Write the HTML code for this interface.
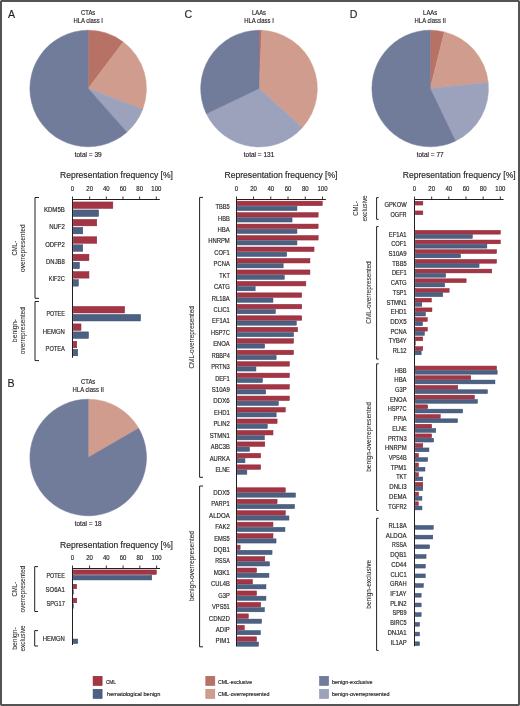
<!DOCTYPE html>
<html><head><meta charset="utf-8"><style>
html,body{margin:0;padding:0;background:#fff;}
body{width:520px;height:706px;overflow:hidden;position:relative;}
.frame{position:absolute;left:0;top:0;width:520px;height:706px;box-sizing:border-box;border:2px solid #545454;}
svg{position:absolute;left:0;top:0;will-change:transform;}
svg text{font-family:"Liberation Sans", sans-serif;fill:#231f20;stroke:#231f20;stroke-width:0.16px;}
</style></head><body>
<svg width="520" height="706" viewBox="0 0 520 706">
<text transform="translate(7.9,17.9) scale(0.9,1)" font-size="11.8" text-anchor="start" >A</text>
<text transform="translate(7.4,387.0) scale(0.9,1)" font-size="11.8" text-anchor="start" >B</text>
<text transform="translate(184.6,18.1) scale(0.9,1)" font-size="11.8" text-anchor="start" >C</text>
<text transform="translate(349.8,18.0) scale(0.9,1)" font-size="11.8" text-anchor="start" >D</text>
<text x="88.2" y="14.6" font-size="6.50" text-anchor="middle" textLength="14.18" lengthAdjust="spacingAndGlyphs">CTAs</text>
<text x="88.2" y="23.1" font-size="6.50" text-anchor="middle" textLength="29.63" lengthAdjust="spacingAndGlyphs">HLA class I</text>
<text x="88.2" y="383.6" font-size="6.50" text-anchor="middle" textLength="14.18" lengthAdjust="spacingAndGlyphs">CTAs</text>
<text x="88.2" y="392.1" font-size="6.50" text-anchor="middle" textLength="31.25" lengthAdjust="spacingAndGlyphs">HLA class II</text>
<text x="259" y="14.8" font-size="6.50" text-anchor="middle" textLength="14.23" lengthAdjust="spacingAndGlyphs">LAAs</text>
<text x="259" y="23.3" font-size="6.50" text-anchor="middle" textLength="29.63" lengthAdjust="spacingAndGlyphs">HLA class I</text>
<text x="430.2" y="14.8" font-size="6.50" text-anchor="middle" textLength="14.23" lengthAdjust="spacingAndGlyphs">LAAs</text>
<text x="430.2" y="23.3" font-size="6.50" text-anchor="middle" textLength="31.25" lengthAdjust="spacingAndGlyphs">HLA class II</text>
<path d="M88.20,88.50 L88.20,30.20 A58.3,58.3 0 0 1 123.22,41.89 Z" fill="#b87265" stroke="#b87265" stroke-width="0.5" stroke-linejoin="round"/>
<path d="M88.20,88.50 L123.22,41.89 A58.3,58.3 0 0 1 142.71,109.17 Z" fill="#d09c8d" stroke="#d09c8d" stroke-width="0.5" stroke-linejoin="round"/>
<path d="M88.20,88.50 L142.71,109.17 A58.3,58.3 0 0 1 126.86,132.14 Z" fill="#9ca1bc" stroke="#9ca1bc" stroke-width="0.5" stroke-linejoin="round"/>
<path d="M88.20,88.50 L126.86,132.14 A58.3,58.3 0 1 1 88.20,30.20 Z" fill="#717b9a" stroke="#717b9a" stroke-width="0.5" stroke-linejoin="round"/>
<path d="M88.20,457.50 L88.20,399.20 A58.3,58.3 0 0 1 138.69,428.35 Z" fill="#d09c8d" stroke="#d09c8d" stroke-width="0.5" stroke-linejoin="round"/>
<path d="M88.20,457.50 L138.69,428.35 A58.3,58.3 0 1 1 88.20,399.20 Z" fill="#717b9a" stroke="#717b9a" stroke-width="0.5" stroke-linejoin="round"/>
<path d="M259.00,88.60 L259.00,30.30 A58.3,58.3 0 0 1 261.80,30.37 Z" fill="#b87265" stroke="#b87265" stroke-width="0.5" stroke-linejoin="round"/>
<path d="M259.00,88.60 L261.80,30.37 A58.3,58.3 0 0 1 302.39,127.54 Z" fill="#d09c8d" stroke="#d09c8d" stroke-width="0.5" stroke-linejoin="round"/>
<path d="M259.00,88.60 L302.39,127.54 A58.3,58.3 0 0 1 206.34,113.63 Z" fill="#9ca1bc" stroke="#9ca1bc" stroke-width="0.5" stroke-linejoin="round"/>
<path d="M259.00,88.60 L206.34,113.63 A58.3,58.3 0 0 1 259.00,30.30 Z" fill="#717b9a" stroke="#717b9a" stroke-width="0.5" stroke-linejoin="round"/>
<path d="M430.20,88.50 L430.20,30.20 A58.3,58.3 0 0 1 444.33,31.94 Z" fill="#b87265" stroke="#b87265" stroke-width="0.5" stroke-linejoin="round"/>
<path d="M430.20,88.50 L444.33,31.94 A58.3,58.3 0 0 1 488.20,82.56 Z" fill="#d09c8d" stroke="#d09c8d" stroke-width="0.5" stroke-linejoin="round"/>
<path d="M430.20,88.50 L488.20,82.56 A58.3,58.3 0 0 1 455.50,141.03 Z" fill="#9ca1bc" stroke="#9ca1bc" stroke-width="0.5" stroke-linejoin="round"/>
<path d="M430.20,88.50 L455.50,141.03 A58.3,58.3 0 1 1 430.20,30.20 Z" fill="#717b9a" stroke="#717b9a" stroke-width="0.5" stroke-linejoin="round"/>
<text x="88.2" y="157.2" font-size="6.60" text-anchor="middle" textLength="27.03" lengthAdjust="spacingAndGlyphs">total = 39</text>
<text x="88.2" y="526.4" font-size="6.60" text-anchor="middle" textLength="27.03" lengthAdjust="spacingAndGlyphs">total = 18</text>
<text x="259" y="157.2" font-size="6.60" text-anchor="middle" textLength="30.52" lengthAdjust="spacingAndGlyphs">total = 131</text>
<text x="430.2" y="157.2" font-size="6.60" text-anchor="middle" textLength="27.03" lengthAdjust="spacingAndGlyphs">total = 77</text>
<text x="116.5" y="178" font-size="9.20" text-anchor="middle" textLength="113.00" lengthAdjust="spacingAndGlyphs">Representation frequency [%]</text>
<text x="116.5" y="547.5" font-size="9.20" text-anchor="middle" textLength="113.00" lengthAdjust="spacingAndGlyphs">Representation frequency [%]</text>
<text x="281" y="178" font-size="9.20" text-anchor="middle" textLength="113.00" lengthAdjust="spacingAndGlyphs">Representation frequency [%]</text>
<text x="459.2" y="178.3" font-size="9.20" text-anchor="middle" textLength="113.00" lengthAdjust="spacingAndGlyphs">Representation frequency [%]</text>
<line x1="72.0" y1="199.5" x2="159.8" y2="199.5" stroke="#231f20" stroke-width="1"/>
<line x1="72.5" y1="199.0" x2="72.5" y2="357.8" stroke="#231f20" stroke-width="1"/>
<line x1="72.50" y1="196.5" x2="72.50" y2="199.5" stroke="#231f20" stroke-width="0.9"/>
<text x="72.50" y="190.8" font-size="6.40" text-anchor="middle" textLength="3.33" lengthAdjust="spacingAndGlyphs">0</text>
<line x1="89.66" y1="196.5" x2="89.66" y2="199.5" stroke="#231f20" stroke-width="0.9"/>
<text x="89.66" y="190.8" font-size="6.40" text-anchor="middle" textLength="6.67" lengthAdjust="spacingAndGlyphs">20</text>
<line x1="106.32" y1="196.5" x2="106.32" y2="199.5" stroke="#231f20" stroke-width="0.9"/>
<text x="106.32" y="190.8" font-size="6.40" text-anchor="middle" textLength="6.67" lengthAdjust="spacingAndGlyphs">40</text>
<line x1="122.98" y1="196.5" x2="122.98" y2="199.5" stroke="#231f20" stroke-width="0.9"/>
<text x="122.98" y="190.8" font-size="6.40" text-anchor="middle" textLength="6.67" lengthAdjust="spacingAndGlyphs">60</text>
<line x1="139.64" y1="196.5" x2="139.64" y2="199.5" stroke="#231f20" stroke-width="0.9"/>
<text x="139.64" y="190.8" font-size="6.40" text-anchor="middle" textLength="6.67" lengthAdjust="spacingAndGlyphs">80</text>
<line x1="156.30" y1="196.5" x2="156.30" y2="199.5" stroke="#231f20" stroke-width="0.9"/>
<text x="156.30" y="190.8" font-size="6.40" text-anchor="middle" textLength="10.00" lengthAdjust="spacingAndGlyphs">100</text>
<rect x="73.25" y="201.95" width="39.60" height="6.5" fill="#a23645" stroke="#8f2536" stroke-width="0.5"/>
<rect x="73.25" y="209.95" width="25.40" height="6.5" fill="#4c6082" stroke="#384a6e" stroke-width="0.5"/>
<text x="64.8" y="211.80" font-size="6.40" text-anchor="end" textLength="20.86" lengthAdjust="spacingAndGlyphs">KDM5B</text>
<rect x="73.25" y="219.37" width="23.50" height="6.5" fill="#a23645" stroke="#8f2536" stroke-width="0.5"/>
<rect x="73.25" y="227.37" width="9.50" height="6.5" fill="#4c6082" stroke="#384a6e" stroke-width="0.5"/>
<text x="64.8" y="229.22" font-size="6.40" text-anchor="end" textLength="15.67" lengthAdjust="spacingAndGlyphs">NUF2</text>
<rect x="73.25" y="236.79" width="23.50" height="6.5" fill="#a23645" stroke="#8f2536" stroke-width="0.5"/>
<rect x="73.25" y="244.79" width="9.50" height="6.5" fill="#4c6082" stroke="#384a6e" stroke-width="0.5"/>
<text x="64.8" y="246.64" font-size="6.40" text-anchor="end" textLength="19.63" lengthAdjust="spacingAndGlyphs">ODFP2</text>
<rect x="73.25" y="254.21" width="15.70" height="6.5" fill="#a23645" stroke="#8f2536" stroke-width="0.5"/>
<rect x="73.25" y="262.21" width="6.20" height="6.5" fill="#4c6082" stroke="#384a6e" stroke-width="0.5"/>
<text x="64.8" y="264.06" font-size="6.40" text-anchor="end" textLength="18.69" lengthAdjust="spacingAndGlyphs">DNJB8</text>
<rect x="73.25" y="271.63" width="15.70" height="6.5" fill="#a23645" stroke="#8f2536" stroke-width="0.5"/>
<rect x="73.25" y="279.63" width="5.10" height="6.5" fill="#4c6082" stroke="#384a6e" stroke-width="0.5"/>
<text x="64.8" y="281.48" font-size="6.40" text-anchor="end" textLength="16.05" lengthAdjust="spacingAndGlyphs">KIF2C</text>
<rect x="73.25" y="306.47" width="51.40" height="6.5" fill="#a23645" stroke="#8f2536" stroke-width="0.5"/>
<rect x="73.25" y="314.47" width="67.30" height="6.5" fill="#4c6082" stroke="#384a6e" stroke-width="0.5"/>
<text x="64.8" y="316.32" font-size="6.40" text-anchor="end" textLength="18.37" lengthAdjust="spacingAndGlyphs">POTEE</text>
<rect x="73.25" y="323.89" width="7.75" height="6.5" fill="#a23645" stroke="#8f2536" stroke-width="0.5"/>
<rect x="73.25" y="331.89" width="15.25" height="6.5" fill="#4c6082" stroke="#384a6e" stroke-width="0.5"/>
<text x="64.8" y="333.74" font-size="6.40" text-anchor="end" textLength="22.11" lengthAdjust="spacingAndGlyphs">HEMGN</text>
<rect x="73.25" y="341.31" width="3.50" height="6.5" fill="#a23645" stroke="#8f2536" stroke-width="0.5"/>
<rect x="73.25" y="349.31" width="4.50" height="6.5" fill="#4c6082" stroke="#384a6e" stroke-width="0.5"/>
<text x="64.8" y="351.16" font-size="6.40" text-anchor="end" textLength="19.19" lengthAdjust="spacingAndGlyphs">POTEA</text>
<path d="M39.0,197.5 H35.0 V298.3 H39.0" fill="none" stroke="#231f20" stroke-width="1"/>
<path d="M39.0,301.5 H35.0 V360.6 H39.0" fill="none" stroke="#231f20" stroke-width="1"/>
<text transform="translate(16.50,248.2) rotate(-90)" x="0" y="0" font-size="6.6" text-anchor="middle" style="stroke-width:0.05px" textLength="14.8" lengthAdjust="spacingAndGlyphs">CML-</text>
<text transform="translate(25.40,248.2) rotate(-90)" x="0" y="0" font-size="6.6" text-anchor="middle" style="stroke-width:0.05px" textLength="47.6" lengthAdjust="spacingAndGlyphs">overrepresented</text>
<text transform="translate(16.50,330.7) rotate(-90)" x="0" y="0" font-size="6.6" text-anchor="middle" style="stroke-width:0.05px" textLength="23" lengthAdjust="spacingAndGlyphs">benign-</text>
<text transform="translate(25.40,330.7) rotate(-90)" x="0" y="0" font-size="6.6" text-anchor="middle" style="stroke-width:0.05px" textLength="46.9" lengthAdjust="spacingAndGlyphs">overrepresented</text>
<line x1="72.0" y1="568.5" x2="160" y2="568.5" stroke="#231f20" stroke-width="1"/>
<line x1="72.5" y1="568.0" x2="72.5" y2="645" stroke="#231f20" stroke-width="1"/>
<line x1="72.50" y1="565.5" x2="72.50" y2="568.5" stroke="#231f20" stroke-width="0.9"/>
<text x="72.50" y="559.8" font-size="6.40" text-anchor="middle" textLength="3.33" lengthAdjust="spacingAndGlyphs">0</text>
<line x1="89.56" y1="565.5" x2="89.56" y2="568.5" stroke="#231f20" stroke-width="0.9"/>
<text x="89.56" y="559.8" font-size="6.40" text-anchor="middle" textLength="6.67" lengthAdjust="spacingAndGlyphs">20</text>
<line x1="106.32" y1="565.5" x2="106.32" y2="568.5" stroke="#231f20" stroke-width="0.9"/>
<text x="106.32" y="559.8" font-size="6.40" text-anchor="middle" textLength="6.67" lengthAdjust="spacingAndGlyphs">40</text>
<line x1="123.08" y1="565.5" x2="123.08" y2="568.5" stroke="#231f20" stroke-width="0.9"/>
<text x="123.08" y="559.8" font-size="6.40" text-anchor="middle" textLength="6.67" lengthAdjust="spacingAndGlyphs">60</text>
<line x1="139.84" y1="565.5" x2="139.84" y2="568.5" stroke="#231f20" stroke-width="0.9"/>
<text x="139.84" y="559.8" font-size="6.40" text-anchor="middle" textLength="6.67" lengthAdjust="spacingAndGlyphs">80</text>
<line x1="156.60" y1="565.5" x2="156.60" y2="568.5" stroke="#231f20" stroke-width="0.9"/>
<text x="156.60" y="559.8" font-size="6.40" text-anchor="middle" textLength="10.00" lengthAdjust="spacingAndGlyphs">100</text>
<rect x="73.25" y="569.95" width="83.10" height="4.5" fill="#a23645" stroke="#8f2536" stroke-width="0.5"/>
<rect x="73.25" y="575.45" width="78.50" height="4.5" fill="#4c6082" stroke="#384a6e" stroke-width="0.5"/>
<text x="64.8" y="577.55" font-size="6.40" text-anchor="end" textLength="18.37" lengthAdjust="spacingAndGlyphs">POTEE</text>
<rect x="73.25" y="584.25" width="3.40" height="4.5" fill="#a23645" stroke="#8f2536" stroke-width="0.5"/>
<rect x="73.25" y="589.75" width="0.40" height="4.5" fill="#4c6082" stroke="#384a6e" stroke-width="0.5"/>
<text x="64.8" y="591.85" font-size="6.40" text-anchor="end" textLength="19.18" lengthAdjust="spacingAndGlyphs">SO6A1</text>
<rect x="73.25" y="598.25" width="3.50" height="4.5" fill="#a23645" stroke="#8f2536" stroke-width="0.5"/>
<rect x="73.25" y="603.75" width="0.40" height="4.5" fill="#4c6082" stroke="#384a6e" stroke-width="0.5"/>
<text x="64.8" y="605.85" font-size="6.40" text-anchor="end" textLength="18.34" lengthAdjust="spacingAndGlyphs">SPG17</text>
<rect x="73.25" y="639.05" width="4.50" height="4.5" fill="#4c6082" stroke="#384a6e" stroke-width="0.5"/>
<text x="64.8" y="641.15" font-size="6.40" text-anchor="end" textLength="22.11" lengthAdjust="spacingAndGlyphs">HEMGN</text>
<path d="M38.0,566.6 H34.7 V611.5 H38.0" fill="none" stroke="#231f20" stroke-width="1"/>
<path d="M38.0,630.6 H34.7 V646 H38.0" fill="none" stroke="#231f20" stroke-width="1"/>
<text transform="translate(16.50,589.2) rotate(-90)" x="0" y="0" font-size="6.6" text-anchor="middle" style="stroke-width:0.05px" textLength="14.8" lengthAdjust="spacingAndGlyphs">CML-</text>
<text transform="translate(25.40,589.2) rotate(-90)" x="0" y="0" font-size="6.6" text-anchor="middle" style="stroke-width:0.05px" textLength="46.7" lengthAdjust="spacingAndGlyphs">overrepresented</text>
<text transform="translate(16.50,638.4) rotate(-90)" x="0" y="0" font-size="6.6" text-anchor="middle" style="stroke-width:0.05px" textLength="22.5" lengthAdjust="spacingAndGlyphs">benign-</text>
<text transform="translate(25.40,638.4) rotate(-90)" x="0" y="0" font-size="6.6" text-anchor="middle" style="stroke-width:0.05px" textLength="26.1" lengthAdjust="spacingAndGlyphs">exclusive</text>
<line x1="236.0" y1="199.5" x2="325.8" y2="199.5" stroke="#231f20" stroke-width="1"/>
<line x1="236.5" y1="199.0" x2="236.5" y2="646.5" stroke="#231f20" stroke-width="1"/>
<line x1="236.50" y1="196.5" x2="236.50" y2="199.5" stroke="#231f20" stroke-width="0.9"/>
<text x="236.50" y="190.8" font-size="6.40" text-anchor="middle" textLength="3.33" lengthAdjust="spacingAndGlyphs">0</text>
<line x1="253.54" y1="196.5" x2="253.54" y2="199.5" stroke="#231f20" stroke-width="0.9"/>
<text x="253.54" y="190.8" font-size="6.40" text-anchor="middle" textLength="6.67" lengthAdjust="spacingAndGlyphs">20</text>
<line x1="270.78" y1="196.5" x2="270.78" y2="199.5" stroke="#231f20" stroke-width="0.9"/>
<text x="270.78" y="190.8" font-size="6.40" text-anchor="middle" textLength="6.67" lengthAdjust="spacingAndGlyphs">40</text>
<line x1="288.02" y1="196.5" x2="288.02" y2="199.5" stroke="#231f20" stroke-width="0.9"/>
<text x="288.02" y="190.8" font-size="6.40" text-anchor="middle" textLength="6.67" lengthAdjust="spacingAndGlyphs">60</text>
<line x1="305.26" y1="196.5" x2="305.26" y2="199.5" stroke="#231f20" stroke-width="0.9"/>
<text x="305.26" y="190.8" font-size="6.40" text-anchor="middle" textLength="6.67" lengthAdjust="spacingAndGlyphs">80</text>
<line x1="322.50" y1="196.5" x2="322.50" y2="199.5" stroke="#231f20" stroke-width="0.9"/>
<text x="322.50" y="190.8" font-size="6.40" text-anchor="middle" textLength="10.00" lengthAdjust="spacingAndGlyphs">100</text>
<rect x="237.25" y="201.15" width="85.00" height="4.5" fill="#a23645" stroke="#8f2536" stroke-width="0.5"/>
<rect x="237.25" y="206.35" width="59.70" height="4.2" fill="#4c6082" stroke="#384a6e" stroke-width="0.5"/>
<text x="229.8" y="209.20" font-size="6.40" text-anchor="end" textLength="14.24" lengthAdjust="spacingAndGlyphs">TBB5</text>
<rect x="237.25" y="212.62" width="80.90" height="4.5" fill="#a23645" stroke="#8f2536" stroke-width="0.5"/>
<rect x="237.25" y="217.81" width="54.80" height="4.2" fill="#4c6082" stroke="#384a6e" stroke-width="0.5"/>
<text x="229.8" y="220.63" font-size="6.40" text-anchor="end" textLength="11.80" lengthAdjust="spacingAndGlyphs">HBB</text>
<rect x="237.25" y="224.08" width="80.90" height="4.5" fill="#a23645" stroke="#8f2536" stroke-width="0.5"/>
<rect x="237.25" y="229.28" width="59.70" height="4.2" fill="#4c6082" stroke="#384a6e" stroke-width="0.5"/>
<text x="229.8" y="232.05" font-size="6.40" text-anchor="end" textLength="12.28" lengthAdjust="spacingAndGlyphs">HBA</text>
<rect x="237.25" y="235.55" width="80.90" height="4.5" fill="#a23645" stroke="#8f2536" stroke-width="0.5"/>
<rect x="237.25" y="240.75" width="59.70" height="4.2" fill="#4c6082" stroke="#384a6e" stroke-width="0.5"/>
<text x="229.8" y="243.48" font-size="6.40" text-anchor="end" textLength="21.65" lengthAdjust="spacingAndGlyphs">HNRPM</text>
<rect x="237.25" y="247.01" width="76.79" height="4.5" fill="#a23645" stroke="#8f2536" stroke-width="0.5"/>
<rect x="237.25" y="252.21" width="49.40" height="4.2" fill="#4c6082" stroke="#384a6e" stroke-width="0.5"/>
<text x="229.8" y="254.90" font-size="6.40" text-anchor="end" textLength="15.43" lengthAdjust="spacingAndGlyphs">COF1</text>
<rect x="237.25" y="258.48" width="72.69" height="4.5" fill="#a23645" stroke="#8f2536" stroke-width="0.5"/>
<rect x="237.25" y="263.68" width="45.90" height="4.2" fill="#4c6082" stroke="#384a6e" stroke-width="0.5"/>
<text x="229.8" y="266.33" font-size="6.40" text-anchor="end" textLength="16.20" lengthAdjust="spacingAndGlyphs">PCNA</text>
<rect x="237.25" y="269.94" width="72.69" height="4.5" fill="#a23645" stroke="#8f2536" stroke-width="0.5"/>
<rect x="237.25" y="275.14" width="47.00" height="4.2" fill="#4c6082" stroke="#384a6e" stroke-width="0.5"/>
<text x="229.8" y="277.76" font-size="6.40" text-anchor="end" textLength="10.44" lengthAdjust="spacingAndGlyphs">TKT</text>
<rect x="237.25" y="281.40" width="68.58" height="4.5" fill="#a23645" stroke="#8f2536" stroke-width="0.5"/>
<rect x="237.25" y="286.60" width="17.90" height="4.2" fill="#4c6082" stroke="#384a6e" stroke-width="0.5"/>
<text x="229.8" y="289.18" font-size="6.40" text-anchor="end" textLength="15.88" lengthAdjust="spacingAndGlyphs">CATG</text>
<rect x="237.25" y="292.87" width="64.48" height="4.5" fill="#a23645" stroke="#8f2536" stroke-width="0.5"/>
<rect x="237.25" y="298.07" width="35.70" height="4.2" fill="#4c6082" stroke="#384a6e" stroke-width="0.5"/>
<text x="229.8" y="300.61" font-size="6.40" text-anchor="end" textLength="18.01" lengthAdjust="spacingAndGlyphs">RL18A</text>
<rect x="237.25" y="304.34" width="64.48" height="4.5" fill="#a23645" stroke="#8f2536" stroke-width="0.5"/>
<rect x="237.25" y="309.54" width="38.10" height="4.2" fill="#4c6082" stroke="#384a6e" stroke-width="0.5"/>
<text x="229.8" y="312.03" font-size="6.40" text-anchor="end" textLength="16.21" lengthAdjust="spacingAndGlyphs">CLIC1</text>
<rect x="237.25" y="315.80" width="64.48" height="4.5" fill="#a23645" stroke="#8f2536" stroke-width="0.5"/>
<rect x="237.25" y="321.00" width="59.10" height="4.2" fill="#4c6082" stroke="#384a6e" stroke-width="0.5"/>
<text x="229.8" y="323.46" font-size="6.40" text-anchor="end" textLength="17.80" lengthAdjust="spacingAndGlyphs">EF1A1</text>
<rect x="237.25" y="327.26" width="60.37" height="4.5" fill="#a23645" stroke="#8f2536" stroke-width="0.5"/>
<rect x="237.25" y="332.46" width="56.40" height="4.2" fill="#4c6082" stroke="#384a6e" stroke-width="0.5"/>
<text x="229.8" y="334.89" font-size="6.40" text-anchor="end" textLength="18.84" lengthAdjust="spacingAndGlyphs">HSP7C</text>
<rect x="237.25" y="338.73" width="56.27" height="4.5" fill="#a23645" stroke="#8f2536" stroke-width="0.5"/>
<rect x="237.25" y="343.93" width="27.40" height="4.2" fill="#4c6082" stroke="#384a6e" stroke-width="0.5"/>
<text x="229.8" y="346.31" font-size="6.40" text-anchor="end" textLength="16.67" lengthAdjust="spacingAndGlyphs">ENOA</text>
<rect x="237.25" y="350.19" width="56.27" height="4.5" fill="#a23645" stroke="#8f2536" stroke-width="0.5"/>
<rect x="237.25" y="355.39" width="38.90" height="4.2" fill="#4c6082" stroke="#384a6e" stroke-width="0.5"/>
<text x="229.8" y="357.74" font-size="6.40" text-anchor="end" textLength="18.14" lengthAdjust="spacingAndGlyphs">RBBP4</text>
<rect x="237.25" y="361.66" width="52.16" height="4.5" fill="#a23645" stroke="#8f2536" stroke-width="0.5"/>
<rect x="237.25" y="366.86" width="18.70" height="4.2" fill="#4c6082" stroke="#384a6e" stroke-width="0.5"/>
<text x="229.8" y="369.16" font-size="6.40" text-anchor="end" textLength="18.62" lengthAdjust="spacingAndGlyphs">PRTN3</text>
<rect x="237.25" y="373.12" width="52.16" height="4.5" fill="#a23645" stroke="#8f2536" stroke-width="0.5"/>
<rect x="237.25" y="378.32" width="25.20" height="4.2" fill="#4c6082" stroke="#384a6e" stroke-width="0.5"/>
<text x="229.8" y="380.59" font-size="6.40" text-anchor="end" textLength="14.67" lengthAdjust="spacingAndGlyphs">DEF1</text>
<rect x="237.25" y="384.59" width="52.16" height="4.5" fill="#a23645" stroke="#8f2536" stroke-width="0.5"/>
<rect x="237.25" y="389.79" width="28.40" height="4.2" fill="#4c6082" stroke="#384a6e" stroke-width="0.5"/>
<text x="229.8" y="392.02" font-size="6.40" text-anchor="end" textLength="17.98" lengthAdjust="spacingAndGlyphs">S10A9</text>
<rect x="237.25" y="396.06" width="52.16" height="4.5" fill="#a23645" stroke="#8f2536" stroke-width="0.5"/>
<rect x="237.25" y="401.25" width="41.10" height="4.2" fill="#4c6082" stroke="#384a6e" stroke-width="0.5"/>
<text x="229.8" y="403.44" font-size="6.40" text-anchor="end" textLength="16.43" lengthAdjust="spacingAndGlyphs">DDX6</text>
<rect x="237.25" y="407.52" width="48.06" height="4.5" fill="#a23645" stroke="#8f2536" stroke-width="0.5"/>
<rect x="237.25" y="412.72" width="38.90" height="4.2" fill="#4c6082" stroke="#384a6e" stroke-width="0.5"/>
<text x="229.8" y="414.87" font-size="6.40" text-anchor="end" textLength="15.80" lengthAdjust="spacingAndGlyphs">EHD1</text>
<rect x="237.25" y="418.99" width="39.85" height="4.5" fill="#a23645" stroke="#8f2536" stroke-width="0.5"/>
<rect x="237.25" y="424.19" width="30.00" height="4.2" fill="#4c6082" stroke="#384a6e" stroke-width="0.5"/>
<text x="229.8" y="426.29" font-size="6.40" text-anchor="end" textLength="16.42" lengthAdjust="spacingAndGlyphs">PLIN2</text>
<rect x="237.25" y="430.45" width="35.74" height="4.5" fill="#a23645" stroke="#8f2536" stroke-width="0.5"/>
<rect x="237.25" y="435.65" width="27.10" height="4.2" fill="#4c6082" stroke="#384a6e" stroke-width="0.5"/>
<text x="229.8" y="437.72" font-size="6.40" text-anchor="end" textLength="20.16" lengthAdjust="spacingAndGlyphs">STMN1</text>
<rect x="237.25" y="441.91" width="27.53" height="4.5" fill="#a23645" stroke="#8f2536" stroke-width="0.5"/>
<rect x="237.25" y="447.11" width="12.30" height="4.2" fill="#4c6082" stroke="#384a6e" stroke-width="0.5"/>
<text x="229.8" y="449.15" font-size="6.40" text-anchor="end" textLength="18.97" lengthAdjust="spacingAndGlyphs">ABC3B</text>
<rect x="237.25" y="453.38" width="23.43" height="4.5" fill="#a23645" stroke="#8f2536" stroke-width="0.5"/>
<rect x="237.25" y="458.58" width="7.70" height="4.2" fill="#4c6082" stroke="#384a6e" stroke-width="0.5"/>
<text x="229.8" y="460.57" font-size="6.40" text-anchor="end" textLength="20.07" lengthAdjust="spacingAndGlyphs">AURKA</text>
<rect x="237.25" y="464.85" width="23.43" height="4.5" fill="#a23645" stroke="#8f2536" stroke-width="0.5"/>
<rect x="237.25" y="470.05" width="9.60" height="4.2" fill="#4c6082" stroke="#384a6e" stroke-width="0.5"/>
<text x="229.8" y="472.00" font-size="6.40" text-anchor="end" textLength="14.38" lengthAdjust="spacingAndGlyphs">ELNE</text>
<rect x="237.25" y="487.77" width="48.06" height="4.5" fill="#a23645" stroke="#8f2536" stroke-width="0.5"/>
<rect x="237.25" y="492.97" width="58.20" height="4.2" fill="#4c6082" stroke="#384a6e" stroke-width="0.5"/>
<text x="229.8" y="494.85" font-size="6.40" text-anchor="end" textLength="16.43" lengthAdjust="spacingAndGlyphs">DDX5</text>
<rect x="237.25" y="499.24" width="39.85" height="4.5" fill="#a23645" stroke="#8f2536" stroke-width="0.5"/>
<rect x="237.25" y="504.44" width="57.30" height="4.2" fill="#4c6082" stroke="#384a6e" stroke-width="0.5"/>
<text x="229.8" y="506.28" font-size="6.40" text-anchor="end" textLength="18.54" lengthAdjust="spacingAndGlyphs">PARP1</text>
<rect x="237.25" y="510.71" width="48.06" height="4.5" fill="#a23645" stroke="#8f2536" stroke-width="0.5"/>
<rect x="237.25" y="515.91" width="51.70" height="4.2" fill="#4c6082" stroke="#384a6e" stroke-width="0.5"/>
<text x="229.8" y="517.70" font-size="6.40" text-anchor="end" textLength="20.75" lengthAdjust="spacingAndGlyphs">ALDOA</text>
<rect x="237.25" y="522.17" width="35.74" height="4.5" fill="#a23645" stroke="#8f2536" stroke-width="0.5"/>
<rect x="237.25" y="527.37" width="47.70" height="4.2" fill="#4c6082" stroke="#384a6e" stroke-width="0.5"/>
<text x="229.8" y="529.13" font-size="6.40" text-anchor="end" textLength="14.65" lengthAdjust="spacingAndGlyphs">FAK2</text>
<rect x="237.25" y="533.63" width="35.74" height="4.5" fill="#a23645" stroke="#8f2536" stroke-width="0.5"/>
<rect x="237.25" y="538.84" width="38.80" height="4.2" fill="#4c6082" stroke="#384a6e" stroke-width="0.5"/>
<text x="229.8" y="540.55" font-size="6.40" text-anchor="end" textLength="15.65" lengthAdjust="spacingAndGlyphs">EMS5</text>
<rect x="237.25" y="545.10" width="2.90" height="4.5" fill="#a23645" stroke="#8f2536" stroke-width="0.5"/>
<rect x="237.25" y="550.30" width="34.80" height="4.2" fill="#4c6082" stroke="#384a6e" stroke-width="0.5"/>
<text x="229.8" y="551.98" font-size="6.40" text-anchor="end" textLength="16.39" lengthAdjust="spacingAndGlyphs">DQB1</text>
<rect x="237.25" y="556.57" width="27.53" height="4.5" fill="#a23645" stroke="#8f2536" stroke-width="0.5"/>
<rect x="237.25" y="561.77" width="32.30" height="4.2" fill="#4c6082" stroke="#384a6e" stroke-width="0.5"/>
<text x="229.8" y="563.41" font-size="6.40" text-anchor="end" textLength="14.52" lengthAdjust="spacingAndGlyphs">RSSA</text>
<rect x="237.25" y="568.03" width="19.32" height="4.5" fill="#a23645" stroke="#8f2536" stroke-width="0.5"/>
<rect x="237.25" y="573.23" width="31.70" height="4.2" fill="#4c6082" stroke="#384a6e" stroke-width="0.5"/>
<text x="229.8" y="574.83" font-size="6.40" text-anchor="end" textLength="16.13" lengthAdjust="spacingAndGlyphs">M3K1</text>
<rect x="237.25" y="579.50" width="15.22" height="4.5" fill="#a23645" stroke="#8f2536" stroke-width="0.5"/>
<rect x="237.25" y="584.70" width="28.70" height="4.2" fill="#4c6082" stroke="#384a6e" stroke-width="0.5"/>
<text x="229.8" y="586.26" font-size="6.40" text-anchor="end" textLength="18.73" lengthAdjust="spacingAndGlyphs">CUL4B</text>
<rect x="237.25" y="590.96" width="19.32" height="4.5" fill="#a23645" stroke="#8f2536" stroke-width="0.5"/>
<rect x="237.25" y="596.16" width="28.70" height="4.2" fill="#4c6082" stroke="#384a6e" stroke-width="0.5"/>
<text x="229.8" y="597.68" font-size="6.40" text-anchor="end" textLength="11.50" lengthAdjust="spacingAndGlyphs">G3P</text>
<rect x="237.25" y="602.42" width="23.43" height="4.5" fill="#a23645" stroke="#8f2536" stroke-width="0.5"/>
<rect x="237.25" y="607.62" width="27.10" height="4.2" fill="#4c6082" stroke="#384a6e" stroke-width="0.5"/>
<text x="229.8" y="609.11" font-size="6.40" text-anchor="end" textLength="17.74" lengthAdjust="spacingAndGlyphs">VPS51</text>
<rect x="237.25" y="613.89" width="11.11" height="4.5" fill="#a23645" stroke="#8f2536" stroke-width="0.5"/>
<rect x="237.25" y="619.09" width="24.30" height="4.2" fill="#4c6082" stroke="#384a6e" stroke-width="0.5"/>
<text x="229.8" y="620.54" font-size="6.40" text-anchor="end" textLength="20.96" lengthAdjust="spacingAndGlyphs">CDN2D</text>
<rect x="237.25" y="625.36" width="7.01" height="4.5" fill="#a23645" stroke="#8f2536" stroke-width="0.5"/>
<rect x="237.25" y="630.56" width="23.10" height="4.2" fill="#4c6082" stroke="#384a6e" stroke-width="0.5"/>
<text x="229.8" y="631.96" font-size="6.40" text-anchor="end" textLength="13.93" lengthAdjust="spacingAndGlyphs">ADIP</text>
<rect x="237.25" y="636.82" width="19.32" height="4.5" fill="#a23645" stroke="#8f2536" stroke-width="0.5"/>
<rect x="237.25" y="642.02" width="21.30" height="4.2" fill="#4c6082" stroke="#384a6e" stroke-width="0.5"/>
<text x="229.8" y="643.39" font-size="6.40" text-anchor="end" textLength="14.20" lengthAdjust="spacingAndGlyphs">PIM1</text>
<path d="M203.0,197.4 H199.6 V477.3 H203.0" fill="none" stroke="#231f20" stroke-width="1"/>
<path d="M203.0,486.0 H199.6 V646.8 H203.0" fill="none" stroke="#231f20" stroke-width="1"/>
<text transform="translate(193.60,337.4) rotate(-90)" x="0" y="0" font-size="6.6" text-anchor="middle" style="stroke-width:0.05px" textLength="62.3" lengthAdjust="spacingAndGlyphs">CML-overrepresented</text>
<text transform="translate(193.60,566) rotate(-90)" x="0" y="0" font-size="6.6" text-anchor="middle" style="stroke-width:0.05px" textLength="70" lengthAdjust="spacingAndGlyphs">benign-overrepresented</text>
<line x1="414.0" y1="199.5" x2="503.6" y2="199.5" stroke="#231f20" stroke-width="1"/>
<line x1="414.5" y1="199.0" x2="414.5" y2="646.3" stroke="#231f20" stroke-width="1"/>
<line x1="414.50" y1="196.5" x2="414.50" y2="199.5" stroke="#231f20" stroke-width="0.9"/>
<text x="414.50" y="190.9" font-size="6.40" text-anchor="middle" textLength="3.33" lengthAdjust="spacingAndGlyphs">0</text>
<line x1="431.66" y1="196.5" x2="431.66" y2="199.5" stroke="#231f20" stroke-width="0.9"/>
<text x="431.66" y="190.9" font-size="6.40" text-anchor="middle" textLength="6.67" lengthAdjust="spacingAndGlyphs">20</text>
<line x1="448.82" y1="196.5" x2="448.82" y2="199.5" stroke="#231f20" stroke-width="0.9"/>
<text x="448.82" y="190.9" font-size="6.40" text-anchor="middle" textLength="6.67" lengthAdjust="spacingAndGlyphs">40</text>
<line x1="465.98" y1="196.5" x2="465.98" y2="199.5" stroke="#231f20" stroke-width="0.9"/>
<text x="465.98" y="190.9" font-size="6.40" text-anchor="middle" textLength="6.67" lengthAdjust="spacingAndGlyphs">60</text>
<line x1="483.14" y1="196.5" x2="483.14" y2="199.5" stroke="#231f20" stroke-width="0.9"/>
<text x="483.14" y="190.9" font-size="6.40" text-anchor="middle" textLength="6.67" lengthAdjust="spacingAndGlyphs">80</text>
<line x1="500.30" y1="196.5" x2="500.30" y2="199.5" stroke="#231f20" stroke-width="0.9"/>
<text x="500.30" y="190.9" font-size="6.40" text-anchor="middle" textLength="10.00" lengthAdjust="spacingAndGlyphs">100</text>
<rect x="415.25" y="201.25" width="7.60" height="3.8" fill="#a23645" stroke="#8f2536" stroke-width="0.5"/>
<text x="406.6" y="207.40" font-size="6.40" text-anchor="end" textLength="22.13" lengthAdjust="spacingAndGlyphs">GPKOW</text>
<rect x="415.25" y="210.94" width="7.60" height="3.8" fill="#a23645" stroke="#8f2536" stroke-width="0.5"/>
<text x="406.6" y="217.11" font-size="6.40" text-anchor="end" textLength="16.05" lengthAdjust="spacingAndGlyphs">OGFR</text>
<rect x="415.25" y="230.34" width="85.10" height="3.8" fill="#a23645" stroke="#8f2536" stroke-width="0.5"/>
<rect x="415.25" y="234.64" width="57.10" height="3.8" fill="#4c6082" stroke="#384a6e" stroke-width="0.5"/>
<text x="406.6" y="236.54" font-size="6.40" text-anchor="end" textLength="17.80" lengthAdjust="spacingAndGlyphs">EF1A1</text>
<rect x="415.25" y="240.03" width="85.10" height="3.8" fill="#a23645" stroke="#8f2536" stroke-width="0.5"/>
<rect x="415.25" y="244.33" width="71.60" height="3.8" fill="#4c6082" stroke="#384a6e" stroke-width="0.5"/>
<text x="406.6" y="246.26" font-size="6.40" text-anchor="end" textLength="15.43" lengthAdjust="spacingAndGlyphs">COF1</text>
<rect x="415.25" y="249.72" width="81.30" height="3.8" fill="#a23645" stroke="#8f2536" stroke-width="0.5"/>
<rect x="415.25" y="254.03" width="45.20" height="3.8" fill="#4c6082" stroke="#384a6e" stroke-width="0.5"/>
<text x="406.6" y="255.97" font-size="6.40" text-anchor="end" textLength="17.98" lengthAdjust="spacingAndGlyphs">S10A9</text>
<rect x="415.25" y="259.42" width="81.30" height="3.8" fill="#a23645" stroke="#8f2536" stroke-width="0.5"/>
<rect x="415.25" y="263.72" width="63.80" height="3.8" fill="#4c6082" stroke="#384a6e" stroke-width="0.5"/>
<text x="406.6" y="265.68" font-size="6.40" text-anchor="end" textLength="14.24" lengthAdjust="spacingAndGlyphs">TBB5</text>
<rect x="415.25" y="269.12" width="76.50" height="3.8" fill="#a23645" stroke="#8f2536" stroke-width="0.5"/>
<rect x="415.25" y="273.42" width="30.40" height="3.8" fill="#4c6082" stroke="#384a6e" stroke-width="0.5"/>
<text x="406.6" y="275.40" font-size="6.40" text-anchor="end" textLength="14.67" lengthAdjust="spacingAndGlyphs">DEF1</text>
<rect x="415.25" y="278.81" width="50.90" height="3.8" fill="#a23645" stroke="#8f2536" stroke-width="0.5"/>
<rect x="415.25" y="283.11" width="29.40" height="3.8" fill="#4c6082" stroke="#384a6e" stroke-width="0.5"/>
<text x="406.6" y="285.11" font-size="6.40" text-anchor="end" textLength="15.88" lengthAdjust="spacingAndGlyphs">CATG</text>
<rect x="415.25" y="288.50" width="33.90" height="3.8" fill="#a23645" stroke="#8f2536" stroke-width="0.5"/>
<rect x="415.25" y="292.81" width="27.50" height="3.8" fill="#4c6082" stroke="#384a6e" stroke-width="0.5"/>
<text x="406.6" y="294.83" font-size="6.40" text-anchor="end" textLength="13.84" lengthAdjust="spacingAndGlyphs">TSP1</text>
<rect x="415.25" y="298.20" width="16.20" height="3.8" fill="#a23645" stroke="#8f2536" stroke-width="0.5"/>
<rect x="415.25" y="302.50" width="6.50" height="3.8" fill="#4c6082" stroke="#384a6e" stroke-width="0.5"/>
<text x="406.6" y="304.54" font-size="6.40" text-anchor="end" textLength="20.16" lengthAdjust="spacingAndGlyphs">STMN1</text>
<rect x="415.25" y="307.89" width="16.70" height="3.8" fill="#a23645" stroke="#8f2536" stroke-width="0.5"/>
<rect x="415.25" y="312.19" width="10.20" height="3.8" fill="#4c6082" stroke="#384a6e" stroke-width="0.5"/>
<text x="406.6" y="314.25" font-size="6.40" text-anchor="end" textLength="15.80" lengthAdjust="spacingAndGlyphs">EHD1</text>
<rect x="415.25" y="317.59" width="12.10" height="3.8" fill="#a23645" stroke="#8f2536" stroke-width="0.5"/>
<rect x="415.25" y="321.89" width="7.30" height="3.8" fill="#4c6082" stroke="#384a6e" stroke-width="0.5"/>
<text x="406.6" y="323.97" font-size="6.40" text-anchor="end" textLength="16.43" lengthAdjust="spacingAndGlyphs">DDX5</text>
<rect x="415.25" y="327.28" width="12.10" height="3.8" fill="#a23645" stroke="#8f2536" stroke-width="0.5"/>
<rect x="415.25" y="331.58" width="9.20" height="3.8" fill="#4c6082" stroke="#384a6e" stroke-width="0.5"/>
<text x="406.6" y="333.68" font-size="6.40" text-anchor="end" textLength="16.20" lengthAdjust="spacingAndGlyphs">PCNA</text>
<rect x="415.25" y="336.98" width="7.50" height="3.8" fill="#a23645" stroke="#8f2536" stroke-width="0.5"/>
<rect x="415.25" y="341.28" width="0.30" height="3.8" fill="#4c6082" stroke="#384a6e" stroke-width="0.5"/>
<text x="406.6" y="343.40" font-size="6.40" text-anchor="end" textLength="17.91" lengthAdjust="spacingAndGlyphs">TYB4Y</text>
<rect x="415.25" y="346.68" width="7.50" height="3.8" fill="#a23645" stroke="#8f2536" stroke-width="0.5"/>
<rect x="415.25" y="350.98" width="5.90" height="3.8" fill="#4c6082" stroke="#384a6e" stroke-width="0.5"/>
<text x="406.6" y="353.11" font-size="6.40" text-anchor="end" textLength="13.84" lengthAdjust="spacingAndGlyphs">RL12</text>
<rect x="415.25" y="366.06" width="81.30" height="3.8" fill="#a23645" stroke="#8f2536" stroke-width="0.5"/>
<rect x="415.25" y="370.37" width="81.90" height="3.8" fill="#4c6082" stroke="#384a6e" stroke-width="0.5"/>
<text x="406.6" y="372.54" font-size="6.40" text-anchor="end" textLength="11.80" lengthAdjust="spacingAndGlyphs">HBB</text>
<rect x="415.25" y="375.76" width="55.50" height="3.8" fill="#a23645" stroke="#8f2536" stroke-width="0.5"/>
<rect x="415.25" y="380.06" width="79.70" height="3.8" fill="#4c6082" stroke="#384a6e" stroke-width="0.5"/>
<text x="406.6" y="382.25" font-size="6.40" text-anchor="end" textLength="12.28" lengthAdjust="spacingAndGlyphs">HBA</text>
<rect x="415.25" y="385.46" width="42.50" height="3.8" fill="#a23645" stroke="#8f2536" stroke-width="0.5"/>
<rect x="415.25" y="389.76" width="72.20" height="3.8" fill="#4c6082" stroke="#384a6e" stroke-width="0.5"/>
<text x="406.6" y="391.97" font-size="6.40" text-anchor="end" textLength="11.50" lengthAdjust="spacingAndGlyphs">G3P</text>
<rect x="415.25" y="395.15" width="59.20" height="3.8" fill="#a23645" stroke="#8f2536" stroke-width="0.5"/>
<rect x="415.25" y="399.45" width="62.20" height="3.8" fill="#4c6082" stroke="#384a6e" stroke-width="0.5"/>
<text x="406.6" y="401.68" font-size="6.40" text-anchor="end" textLength="16.67" lengthAdjust="spacingAndGlyphs">ENOA</text>
<rect x="415.25" y="404.85" width="12.40" height="3.8" fill="#a23645" stroke="#8f2536" stroke-width="0.5"/>
<rect x="415.25" y="409.15" width="47.40" height="3.8" fill="#4c6082" stroke="#384a6e" stroke-width="0.5"/>
<text x="406.6" y="411.39" font-size="6.40" text-anchor="end" textLength="18.84" lengthAdjust="spacingAndGlyphs">HSP7C</text>
<rect x="415.25" y="414.54" width="25.00" height="3.8" fill="#a23645" stroke="#8f2536" stroke-width="0.5"/>
<rect x="415.25" y="418.84" width="42.30" height="3.8" fill="#4c6082" stroke="#384a6e" stroke-width="0.5"/>
<text x="406.6" y="421.11" font-size="6.40" text-anchor="end" textLength="13.02" lengthAdjust="spacingAndGlyphs">PPIA</text>
<rect x="415.25" y="424.24" width="16.40" height="3.8" fill="#a23645" stroke="#8f2536" stroke-width="0.5"/>
<rect x="415.25" y="428.54" width="20.50" height="3.8" fill="#4c6082" stroke="#384a6e" stroke-width="0.5"/>
<text x="406.6" y="430.82" font-size="6.40" text-anchor="end" textLength="14.38" lengthAdjust="spacingAndGlyphs">ELNE</text>
<rect x="415.25" y="433.93" width="16.40" height="3.8" fill="#a23645" stroke="#8f2536" stroke-width="0.5"/>
<rect x="415.25" y="438.23" width="18.30" height="3.8" fill="#4c6082" stroke="#384a6e" stroke-width="0.5"/>
<text x="406.6" y="440.54" font-size="6.40" text-anchor="end" textLength="18.62" lengthAdjust="spacingAndGlyphs">PRTN3</text>
<rect x="415.25" y="443.62" width="7.50" height="3.8" fill="#a23645" stroke="#8f2536" stroke-width="0.5"/>
<rect x="415.25" y="447.93" width="13.70" height="3.8" fill="#4c6082" stroke="#384a6e" stroke-width="0.5"/>
<text x="406.6" y="450.25" font-size="6.40" text-anchor="end" textLength="21.65" lengthAdjust="spacingAndGlyphs">HNRPM</text>
<rect x="415.25" y="453.32" width="3.20" height="3.8" fill="#a23645" stroke="#8f2536" stroke-width="0.5"/>
<rect x="415.25" y="457.62" width="12.40" height="3.8" fill="#4c6082" stroke="#384a6e" stroke-width="0.5"/>
<text x="406.6" y="459.96" font-size="6.40" text-anchor="end" textLength="17.94" lengthAdjust="spacingAndGlyphs">VPS4B</text>
<rect x="415.25" y="463.01" width="3.20" height="3.8" fill="#a23645" stroke="#8f2536" stroke-width="0.5"/>
<rect x="415.25" y="467.31" width="9.70" height="3.8" fill="#4c6082" stroke="#384a6e" stroke-width="0.5"/>
<text x="406.6" y="469.68" font-size="6.40" text-anchor="end" textLength="15.95" lengthAdjust="spacingAndGlyphs">TPM1</text>
<rect x="415.25" y="472.71" width="3.20" height="3.8" fill="#a23645" stroke="#8f2536" stroke-width="0.5"/>
<rect x="415.25" y="477.01" width="7.50" height="3.8" fill="#4c6082" stroke="#384a6e" stroke-width="0.5"/>
<text x="406.6" y="479.39" font-size="6.40" text-anchor="end" textLength="10.44" lengthAdjust="spacingAndGlyphs">TKT</text>
<rect x="415.25" y="482.41" width="7.50" height="3.8" fill="#a23645" stroke="#8f2536" stroke-width="0.5"/>
<rect x="415.25" y="486.71" width="7.50" height="3.8" fill="#4c6082" stroke="#384a6e" stroke-width="0.5"/>
<text x="406.6" y="489.11" font-size="6.40" text-anchor="end" textLength="17.33" lengthAdjust="spacingAndGlyphs">DNLI3</text>
<rect x="415.25" y="492.10" width="3.20" height="3.8" fill="#a23645" stroke="#8f2536" stroke-width="0.5"/>
<rect x="415.25" y="496.40" width="6.70" height="3.8" fill="#4c6082" stroke="#384a6e" stroke-width="0.5"/>
<text x="406.6" y="498.82" font-size="6.40" text-anchor="end" textLength="17.50" lengthAdjust="spacingAndGlyphs">DEMA</text>
<rect x="415.25" y="501.80" width="3.20" height="3.8" fill="#a23645" stroke="#8f2536" stroke-width="0.5"/>
<rect x="415.25" y="506.10" width="6.70" height="3.8" fill="#4c6082" stroke="#384a6e" stroke-width="0.5"/>
<text x="406.6" y="508.53" font-size="6.40" text-anchor="end" textLength="18.23" lengthAdjust="spacingAndGlyphs">TGFR2</text>
<rect x="415.25" y="525.48" width="18.00" height="3.8" fill="#4c6082" stroke="#384a6e" stroke-width="0.5"/>
<text x="406.6" y="527.96" font-size="6.40" text-anchor="end" textLength="18.01" lengthAdjust="spacingAndGlyphs">RL18A</text>
<rect x="415.25" y="535.18" width="17.50" height="3.8" fill="#4c6082" stroke="#384a6e" stroke-width="0.5"/>
<text x="406.6" y="537.68" font-size="6.40" text-anchor="end" textLength="20.75" lengthAdjust="spacingAndGlyphs">ALDOA</text>
<rect x="415.25" y="544.88" width="14.30" height="3.8" fill="#4c6082" stroke="#384a6e" stroke-width="0.5"/>
<text x="406.6" y="547.39" font-size="6.40" text-anchor="end" textLength="14.52" lengthAdjust="spacingAndGlyphs">RSSA</text>
<rect x="415.25" y="554.57" width="10.80" height="3.8" fill="#4c6082" stroke="#384a6e" stroke-width="0.5"/>
<text x="406.6" y="557.10" font-size="6.40" text-anchor="end" textLength="16.39" lengthAdjust="spacingAndGlyphs">DQB1</text>
<rect x="415.25" y="564.26" width="10.00" height="3.8" fill="#4c6082" stroke="#384a6e" stroke-width="0.5"/>
<text x="406.6" y="566.82" font-size="6.40" text-anchor="end" textLength="15.45" lengthAdjust="spacingAndGlyphs">CD44</text>
<rect x="415.25" y="573.96" width="10.00" height="3.8" fill="#4c6082" stroke="#384a6e" stroke-width="0.5"/>
<text x="406.6" y="576.53" font-size="6.40" text-anchor="end" textLength="16.21" lengthAdjust="spacingAndGlyphs">CLIC1</text>
<rect x="415.25" y="583.65" width="8.10" height="3.8" fill="#4c6082" stroke="#384a6e" stroke-width="0.5"/>
<text x="406.6" y="586.25" font-size="6.40" text-anchor="end" textLength="16.65" lengthAdjust="spacingAndGlyphs">GRAH</text>
<rect x="415.25" y="593.35" width="5.90" height="3.8" fill="#4c6082" stroke="#384a6e" stroke-width="0.5"/>
<text x="406.6" y="595.96" font-size="6.40" text-anchor="end" textLength="16.27" lengthAdjust="spacingAndGlyphs">IF1AY</text>
<rect x="415.25" y="603.04" width="5.90" height="3.8" fill="#4c6082" stroke="#384a6e" stroke-width="0.5"/>
<text x="406.6" y="605.67" font-size="6.40" text-anchor="end" textLength="16.42" lengthAdjust="spacingAndGlyphs">PLIN2</text>
<rect x="415.25" y="612.74" width="5.90" height="3.8" fill="#4c6082" stroke="#384a6e" stroke-width="0.5"/>
<text x="406.6" y="615.39" font-size="6.40" text-anchor="end" textLength="14.14" lengthAdjust="spacingAndGlyphs">SPB9</text>
<rect x="415.25" y="622.43" width="4.30" height="3.8" fill="#4c6082" stroke="#384a6e" stroke-width="0.5"/>
<text x="406.6" y="625.10" font-size="6.40" text-anchor="end" textLength="16.40" lengthAdjust="spacingAndGlyphs">BIRC5</text>
<rect x="415.25" y="632.13" width="4.30" height="3.8" fill="#4c6082" stroke="#384a6e" stroke-width="0.5"/>
<text x="406.6" y="634.82" font-size="6.40" text-anchor="end" textLength="19.17" lengthAdjust="spacingAndGlyphs">DNJA1</text>
<rect x="415.25" y="641.83" width="4.30" height="3.8" fill="#4c6082" stroke="#384a6e" stroke-width="0.5"/>
<text x="406.6" y="644.53" font-size="6.40" text-anchor="end" textLength="16.10" lengthAdjust="spacingAndGlyphs">IL1AP</text>
<path d="M378.6,197.6 H376.6 V219.3 H378.6" fill="none" stroke="#231f20" stroke-width="1"/>
<path d="M378.6,226.6 H376.6 V359.1 H378.6" fill="none" stroke="#231f20" stroke-width="1"/>
<path d="M378.6,363.8 H376.6 V510.4 H378.6" fill="none" stroke="#231f20" stroke-width="1"/>
<path d="M378.6,518.3 H376.6 V650.4 H378.6" fill="none" stroke="#231f20" stroke-width="1"/>
<text transform="translate(358.00,208.4) rotate(-90)" x="0" y="0" font-size="6.6" text-anchor="middle" style="stroke-width:0.05px" textLength="14.7" lengthAdjust="spacingAndGlyphs">CML-</text>
<text transform="translate(366.80,208.4) rotate(-90)" x="0" y="0" font-size="6.6" text-anchor="middle" style="stroke-width:0.05px" textLength="26.1" lengthAdjust="spacingAndGlyphs">exclusive</text>
<text transform="translate(370.90,292.5) rotate(-90)" x="0" y="0" font-size="6.6" text-anchor="middle" style="stroke-width:0.05px" textLength="62.3" lengthAdjust="spacingAndGlyphs">CML-overrepresented</text>
<text transform="translate(370.90,437) rotate(-90)" x="0" y="0" font-size="6.6" text-anchor="middle" style="stroke-width:0.05px" textLength="69.6" lengthAdjust="spacingAndGlyphs">benign-overrepresented</text>
<text transform="translate(370.90,584.3) rotate(-90)" x="0" y="0" font-size="6.6" text-anchor="middle" style="stroke-width:0.05px" textLength="48.8" lengthAdjust="spacingAndGlyphs">benign-exclusive</text>
<rect x="93.1" y="676.3" width="9" height="9.2" fill="#a23645" stroke="#951c2e" stroke-width="0.6"/>
<rect x="93.1" y="689.3" width="9" height="9.2" fill="#4c6082" stroke="#3a5075" stroke-width="0.6"/>
<rect x="205.8" y="676.3" width="9" height="9.2" fill="#b87265" stroke="#ad6254" stroke-width="0.6"/>
<rect x="205.8" y="689.3" width="9" height="9.2" fill="#d09c8d" stroke="#c58c7c" stroke-width="0.6"/>
<rect x="319.6" y="676.3" width="9" height="9.2" fill="#717b9a" stroke="#646f90" stroke-width="0.6"/>
<rect x="319.6" y="689.3" width="9" height="9.2" fill="#9ca1bc" stroke="#8f95b3" stroke-width="0.6"/>
<text x="105.9" y="683.8" font-size="5.3" textLength="10.1" lengthAdjust="spacingAndGlyphs">CML</text>
<text x="107.1" y="695.9" font-size="5.3" textLength="53.2" lengthAdjust="spacingAndGlyphs">hematological benign</text>
<text x="217.9" y="683.8" font-size="5.3" textLength="34.2" lengthAdjust="spacingAndGlyphs">CML-exclusive</text>
<text x="217.9" y="695.9" font-size="5.3" textLength="51.5" lengthAdjust="spacingAndGlyphs">CML-overrepresented</text>
<text x="331.9" y="683.7" font-size="5.3" textLength="40.7" lengthAdjust="spacingAndGlyphs">benign-exclusive</text>
<text x="331.9" y="695.9" font-size="5.3" textLength="57.6" lengthAdjust="spacingAndGlyphs">benign-overrepresented</text>
</svg>
<div class="frame"></div>
<div style="position:absolute;left:0;top:0;width:1px;height:1px;background:#bdbdbd"></div>
<div style="position:absolute;right:0;top:0;width:1px;height:1px;background:#bdbdbd"></div>
<div style="position:absolute;left:0;bottom:0;width:1px;height:1px;background:#bdbdbd"></div>
<div style="position:absolute;right:0;bottom:0;width:1px;height:1px;background:#bdbdbd"></div>
</body></html>
